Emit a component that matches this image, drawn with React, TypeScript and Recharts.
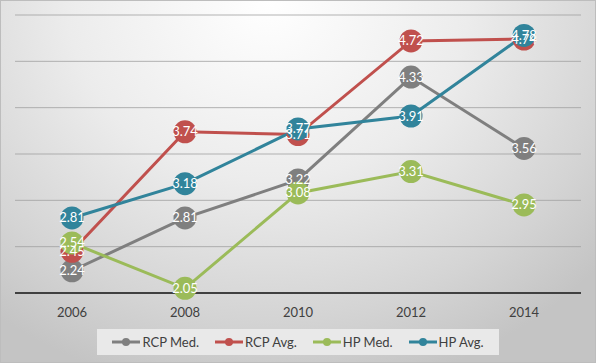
import React from "react";
import { LineChart, Line, XAxis, YAxis, CartesianGrid, Legend, LabelList } from "recharts";

const years = ["2006", "2008", "2010", "2012", "2014"];
const rcpMed = [2.24, 2.81, 3.22, 4.33, 3.56];
const rcpAvg = [2.45, 3.74, 3.71, 4.72, 4.74];
const hpMed = [2.54, 2.05, 3.08, 3.31, 2.95];
const hpAvg = [2.81, 3.18, 3.77, 3.91, 4.78];
const yTicks = [2, 2.5, 3, 3.5, 4, 4.5, 5];

const series = [
    { key: "rcpMed", name: "RCP Med.", color: "#7f7f7f" },
    { key: "rcpAvg", name: "RCP Avg.", color: "#c0504d" },
    { key: "hpMed", name: "HP Med.", color: "#9bbb59" },
    { key: "hpAvg", name: "HP Avg.", color: "#31849b" },
];

const data = years.map((year, i) => ({
    year,
    rcpMed: rcpMed[i],
    rcpAvg: rcpAvg[i],
    hpMed: hpMed[i],
    hpAvg: hpAvg[i],
}));

const FONT = "Lato, 'Open Sans', sans-serif";

function DotLabel(props: any) {
    const { x, y, value } = props;
    return (
        <text x={x} y={y} dy={4.5} textAnchor="middle" fill="#ffffff" fontSize={13} fontFamily={FONT}>
            {Number(value).toFixed(2)}
        </text>
    );
}

function LegendBox() {
    return (
        <div
            style={{
                width: 402,
                height: 26,
                margin: "0 auto",
                background: "#e9e9e9",
                display: "flex",
                alignItems: "center",
                justifyContent: "center",
                gap: 16,
                fontFamily: FONT,
                fontSize: 13,
                color: "#404040",
            }}
        >
            {series.map((s) => (
                <div key={s.key} style={{ display: "flex", alignItems: "center" }}>
                    <svg width={28} height={10} style={{ marginRight: 2 }}>
                        <line x1={0} y1={5} x2={28} y2={5} stroke={s.color} strokeWidth={3} />
                        <circle cx={14} cy={5} r={4} fill={s.color} />
                    </svg>
                    <span>{s.name}</span>
                </div>
            ))}
        </div>
    );
}

export default function App() {
    return (
        <div
            style={{
                position: "absolute",
                left: 0,
                top: 0,
                width: 596,
                height: 363,
                boxSizing: "border-box",
                border: "1px solid #bdbdbd",
                background: "radial-gradient(ellipse 75% 110% at 45% 0%, #ffffff 0%, #ececec 45%, #d4d4d4 80%, #c4c4c4 100%)",
            }}
        >
            <div style={{ position: "absolute", left: -1, top: -1 }}>
                <LineChart width={596} height={363} data={data} margin={{ top: 15, right: 15, left: 15, bottom: 8 }}>
                    <CartesianGrid vertical={false} stroke="#a0a0a0" strokeOpacity={0.8} />
                    <YAxis hide domain={[2, 5]} ticks={yTicks} type="number" />
                    <XAxis
                        dataKey="year"
                        height={36}
                        padding={{ left: 57, right: 57 }}
                        axisLine={{ stroke: "#404040", strokeWidth: 2 }}
                        tickLine={false}
                        tickSize={0}
                        tickMargin={15}
                        tick={{ fill: "#404040", fontSize: 13, fontFamily: FONT }}
                    />
                    <Legend verticalAlign="bottom" content={() => <LegendBox />} />
                    {series.map((s) => (
                        <Line
                            key={s.key}
                            dataKey={s.key}
                            name={s.name}
                            stroke={s.color}
                            strokeWidth={3}
                            dot={{ r: 11.5, fill: s.color, stroke: "none", strokeWidth: 0 }}
                            activeDot={false}
                            isAnimationActive={false}
                        />
                    ))}
                    {series.map((s) => (
                        <Line
                            key={s.key + "-labels"}
                            dataKey={s.key}
                            stroke="none"
                            dot={false}
                            activeDot={false}
                            legendType="none"
                            isAnimationActive={false}
                        >
                            <LabelList dataKey={s.key} content={<DotLabel />} />
                        </Line>
                    ))}
                </LineChart>
            </div>
        </div>
    );
}
